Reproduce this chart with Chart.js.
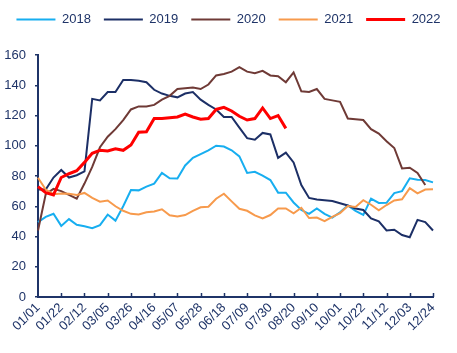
<!DOCTYPE html>
<html>
<head>
<meta charset="utf-8">
<script src="https://cdn.jsdelivr.net/npm/chart.js@4.4.1/dist/chart.umd.min.js"></script>
<style>
  body { margin: 0; background: #fff; }
  canvas { display: block; }
</style>
</head>
<body>
<canvas id="chart" width="457" height="353"></canvas>
<script>
// tick labels shown on the x axis (one every 3 weeks)
const tickLabels = ['01/01', '01/22', '02/12', '03/05', '03/26', '04/16', '05/07', '05/28', '06/18',
  '07/09', '07/30', '08/20', '09/10', '10/01', '10/22', '11/12', '12/03', '12/24'];

// weekly values
const y2018 = [49.5, 53, 55, 47, 51.5, 47.8, 46.8, 45.5, 47.5, 54.5, 50.5, 60, 70.7, 70.5, 73, 75,
  82, 78.5, 78.4, 87, 92, 94.5, 97, 100, 99.5, 97, 93, 82, 82.8, 80.3, 77.3, 69, 69, 62.5, 57.5, 55,
  58.5, 55, 52.5, 56, 60.5, 57, 54.3, 65, 62.2, 62.3, 68.7, 70, 78.5, 77.5, 77.3, 75.8];
const y2019 = [71, 71, 79, 84, 79, 80.5, 83, 131, 130, 135.5, 135.5, 143.5, 143.5, 143, 142, 137,
  134.5, 133, 132, 134.5, 135.5, 130.5, 127, 124, 119, 119, 112, 105, 104, 108.5, 107.5, 92, 95.5, 89,
  74, 65.5, 64.5, 64, 63.5, 62, 60.5, 58.5, 57.5, 52, 50, 44, 44.5, 41, 39.5, 51, 49.5, 44];
const y2020 = [44, 68, 71.5, 70, 67.5, 65, 75, 86, 99, 106, 111, 117, 124, 126, 126, 127, 130.5,
  133, 137.5, 138, 138.5, 137.5, 140.5, 146.5, 147.5, 149, 152, 149, 148, 149.5, 146.5, 146, 142,
  148.5, 136, 135.5, 137.5, 131, 130, 129, 118, 117.5, 117, 111, 108, 103, 98.5, 85, 85.5, 82, 74];
const y2021 = [78.8, 71, 68, 68.5, 68.2, 67.5, 68.8, 65.5, 63, 63.8, 60, 57, 55, 54.5, 56, 56.5, 58,
  54, 53.2, 54.2, 57, 59.3, 59.7, 65, 68.3, 63.2, 58.3, 57, 54, 52, 54.2, 58.5, 58.5, 55.3, 59, 52.2,
  52.5, 50.2, 53, 55.5, 60.2, 59.5, 64, 61, 57.3, 60.8, 63.8, 64.6, 72, 68.5, 71, 71.2];
const y2022 = [73, 69, 67.5, 79, 81.5, 83.5, 89, 95, 97, 96.5, 98, 97, 100.5, 109, 109.3, 118, 118,
  118.5, 119, 121, 119, 117.5, 118, 124, 125.4, 123, 119.5, 117, 118, 125, 118, 120, 111.5];

const seriesNames = ['2018', '2019', '2020', '2021', '2022'];
const seriesData = [y2018, y2019, y2020, y2021, y2022];
const colors = ['#17aef0', '#1c2f66', '#6f3a36', '#f79a4c', '#ff0000'];
const widths = [2, 2, 2, 2, 3];

const NAVY = '#1f3468';
const FONT = "'Liberation Sans', Arial, sans-serif";

// 52 weekly categories, only every third one carries a label
const weeks = [];
for (let i = 0; i < 52; i++) weeks.push(i % 3 === 0 ? tickLabels[i / 3] : '');

const datasets = seriesNames.map((name, i) => ({
  label: name,
  data: seriesData[i],
  borderColor: colors[i],
  backgroundColor: colors[i],
  borderWidth: widths[i],
  pointRadius: 0,
  pointStyle: 'line',
  tension: 0,
  order: seriesNames.length - i
}));

// short tick marks pointing up from the x axis
const xTicks = {
  id: 'xTicks',
  afterDraw(chart) {
    const { ctx, scales: { x } } = chart;
    ctx.save();
    ctx.strokeStyle = NAVY;
    ctx.lineWidth = 1.5;
    for (let k = 1; k < tickLabels.length; k++) {
      const px = Math.round(x.getPixelForValue(k * 3)) + 0.5;
      ctx.beginPath();
      ctx.moveTo(px, x.top);
      ctx.lineTo(px, x.top - 4);
      ctx.stroke();
    }
    ctx.restore();
  }
};

// fixed legend band height so the plot starts at the same place as the original
const legendSpacer = {
  id: 'legendSpacer',
  beforeInit(chart) {
    const fit = chart.legend.fit;
    chart.legend.fit = function () {
      fit.call(this);
      this.height = 55;
    };
  }
};

new Chart(document.getElementById('chart'), {
  type: 'line',
  data: { labels: weeks, datasets: datasets },
  plugins: [xTicks, legendSpacer],
  options: {
    responsive: false,
    animation: false,
    devicePixelRatio: 1,
    layout: { padding: 0 },
    plugins: {
      tooltip: { enabled: false },
      legend: {
        position: 'top',
        labels: {
          usePointStyle: true,
          pointStyleWidth: 39,
          boxHeight: 13,
          padding: 13,
          color: NAVY,
          font: { family: FONT, size: 13 },
          sort: (a, b) => a.datasetIndex - b.datasetIndex
        }
      }
    },
    scales: {
      x: {
        afterFit(scale) { scale.height = 56; },
        grid: { display: false, drawTicks: false },
        border: { display: true, color: NAVY, width: 2 },
        ticks: {
          autoSkip: false,
          maxRotation: 45,
          minRotation: 45,
          padding: 3,
          color: NAVY,
          font: { family: FONT, size: 13 }
        }
      },
      y: {
        min: 0,
        max: 160,
        afterFit(scale) { scale.width = 38; },
        grid: { display: true, drawOnChartArea: false, tickLength: 3, color: NAVY, lineWidth: 1.5 },
        border: { display: true, color: NAVY, width: 2 },
        ticks: {
          stepSize: 20,
          padding: 9,
          color: NAVY,
          font: { family: FONT, size: 13 }
        }
      },
      // empty band on the right, keeps the plot narrower than the legend
      yRight: {
        position: 'right',
        afterFit(scale) { scale.width = 24; },
        grid: { display: false },
        border: { display: false },
        ticks: { display: false }
      }
    }
  }
});
</script>
</body>
</html>
